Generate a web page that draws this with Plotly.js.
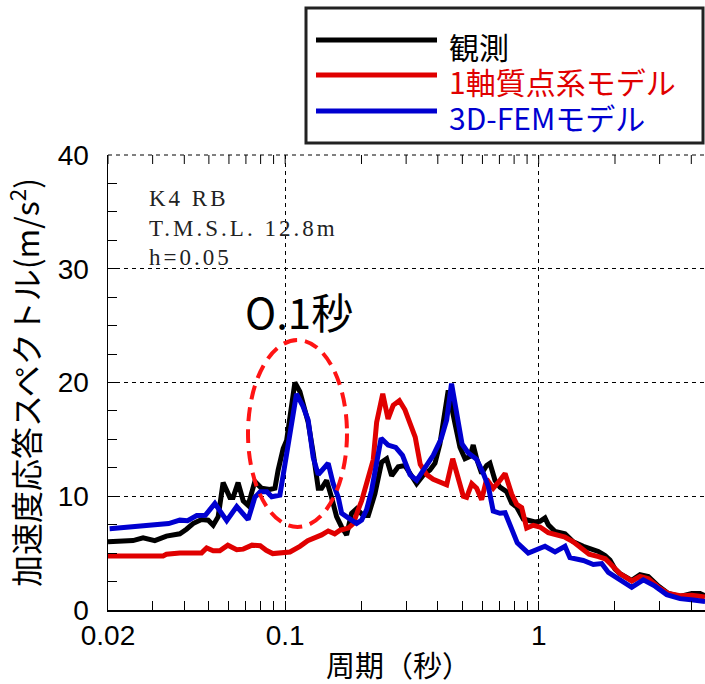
<!DOCTYPE html>
<html>
<head>
<meta charset="utf-8">
<script src="https://cdn.plot.ly/plotly-3.0.1.min.js"></script>
<style>
  html, body { margin: 0; padding: 0; background: #fff; }
  #chart { width: 705px; height: 684px; }
</style>
</head>
<body>
<div id="chart"></div>
<script>
// Acceleration response spectra (h = 0.05), K4 RB, T.M.S.L. 12.8m
// Observed record
const obsPeriod = [0.020,0.0251,0.0275,0.0306,0.0340,0.0384,0.0408,0.0433,0.0468,0.0497,0.0520,0.0544,0.0569,0.0605,0.0623,0.0652,0.0683,0.0714,0.0759,0.0807,0.0870,0.0911,0.0938,0.0982,0.1013,0.1060,0.1092,0.1143,0.1196,0.1232,0.1290,0.1350,0.1392,0.1457,0.1524,0.1595,0.1670,0.1747,0.1828,0.1913,0.2032,0.2127,0.2259,0.2401,0.2513,0.2630,0.2792,0.2968,0.3300,0.3504,0.3724,0.3899,0.4077,0.4267,0.4397,0.4675,0.4891,0.5120,0.5356,0.5518,0.5692,0.5957,0.6233,0.6424,0.6725,0.7035,0.7475,0.7825,0.8188,0.8695,0.9098,0.9670,1.012,1.059,1.091,1.160,1.270,1.369,1.500,1.619,1.719,1.827,1.911,2.000,2.094,2.328,2.511,2.707,2.965,3.247,3.611,4.017,4.332,4.533];
const obsAccel  = [6.0,6.1,6.35,6.1,6.5,6.7,7.1,7.6,7.95,7.9,7.45,8.2,11.2,9.9,9.9,11.2,9.6,9.2,11.3,10.7,10.6,10.7,12.3,14.2,14.9,17.6,20.0,19.2,17.6,16.5,13.8,10.7,10.7,11.4,9.9,8.2,7.3,6.6,8.5,8.9,8.3,8.3,10.2,13.0,13.3,11.8,12.6,12.7,11.1,11.85,12.3,12.9,14.6,17.3,19.3,16.4,14.3,13.3,13.5,14.5,13.3,12.0,12.7,12.9,11.4,10.8,10.4,9.4,9.06,8.0,7.9,7.74,7.8,8.1,7.5,6.9,6.7,6.0,5.6,5.4,5.15,4.8,4.4,3.6,3.2,2.6,3.1,2.95,2.1,1.45,1.2,1.45,1.45,1.25];

// 1-axis lumped mass model
const lumpPeriod = [0.020,0.025,0.0330,0.0340,0.0384,0.0468,0.0490,0.0520,0.0552,0.0594,0.0644,0.0683,0.0740,0.0797,0.0842,0.0893,0.0969,0.1044,0.1143,0.1227,0.1392,0.1478,0.1568,0.1642,0.1774,0.1857,0.1940,0.2003,0.2093,0.2225,0.2295,0.2426,0.2546,0.2667,0.2821,0.2968,0.3108,0.3258,0.3410,0.3617,0.3837,0.4077,0.4335,0.4580,0.4818,0.5043,0.5199,0.5444,0.5692,0.5957,0.6233,0.6617,0.7035,0.7371,0.7825,0.8188,0.8568,0.8966,0.9521,1.012,1.091,1.160,1.270,1.369,1.45,1.58,1.72,1.83,1.93,2.09,2.33,2.51,2.71,2.97,3.25,3.61,4.02,4.53];
const lumpAccel  = [4.75,4.75,4.75,4.9,5.02,5.02,5.45,5.2,5.2,5.7,5.3,5.35,5.7,5.65,5.25,4.96,5.0,5.1,5.6,6.1,6.6,6.95,6.7,7.0,7.2,7.6,8.8,9.6,11.1,13.2,16.5,19.0,16.8,18.0,18.4,17.6,16.4,15.2,12.8,11.9,11.5,11.26,11.0,13.3,11.4,10.0,9.9,11.1,10.7,9.7,11.5,10.7,11.4,12.0,10.2,9.3,9.0,7.2,7.45,7.3,6.8,6.65,6.4,6.0,5.5,4.9,4.7,4.5,4.0,3.2,2.55,2.95,2.75,2.0,1.45,1.25,1.3,1.15];

// 3D-FEM model
const femPeriod = [0.0203,0.0251,0.0298,0.0347,0.0384,0.0412,0.0448,0.0484,0.0528,0.0588,0.0644,0.0714,0.0759,0.0797,0.0847,0.0885,0.0953,0.1006,0.1060,0.1108,0.1176,0.1232,0.1290,0.1350,0.1478,0.1547,0.1620,0.1670,0.1774,0.1913,0.2003,0.2093,0.2192,0.2295,0.2390,0.2546,0.2729,0.2902,0.3108,0.3300,0.3545,0.3837,0.4115,0.4335,0.4532,0.4745,0.4984,0.5280,0.5692,0.6050,0.6326,0.6617,0.7035,0.7371,0.7825,0.8232,0.9098,0.9820,1.059,1.160,1.270,1.328,1.500,1.643,1.773,1.883,2.094,2.328,2.587,2.877,3.200,3.611,4.075,4.533];
const femAccel  = [7.15,7.3,7.5,7.6,7.9,7.85,8.3,8.33,9.36,7.85,9.1,7.95,9.9,10.4,10.4,9.95,10.1,13.2,16.2,19.0,17.9,16.7,13.4,11.9,12.9,11.1,9.9,8.5,8.1,7.6,7.9,8.8,10.5,13.0,15.1,14.5,14.3,13.6,11.9,11.4,12.4,13.6,15.0,16.7,19.9,17.0,14.6,13.8,13.25,12.0,10.9,8.7,8.5,8.55,7.2,5.9,5.0,5.3,5.6,5.1,5.6,4.6,4.35,4.0,4.08,3.3,2.6,2.0,2.65,2.1,1.35,1.0,0.88,0.75];

const seriesNames = ['観測', '1軸質点系モデル', '3D-FEMモデル'];
const seriesColors = ['#000000', '#e00000', '#0000d0'];

// Period ticks
const majorPeriods = [0.02, 0.1, 1];
const majorLabels = ['0.02', '0.1', '1'];
const minorPeriods = [0.03,0.04,0.05,0.06,0.07,0.08,0.09,0.2,0.3,0.4,0.5,0.6,0.7,0.8,0.9,2,3,4];

const periodMin = 0.02, periodMax = 4.53;

// Plot frame in pixels, used to place the legend box and notes
const L = 108, R = 705, T = 155, B = 610;
const fx = p => (p - L) / (R - L);
const fy = p => (B - p) / (B - T);
// paper position of a period on the log axis
const fLog = t => (Math.log10(t) - Math.log10(periodMin)) / (Math.log10(periodMax) - Math.log10(periodMin));

const curves = [
  [obsPeriod, obsAccel],
  [lumpPeriod, lumpAccel],
  [femPeriod, femAccel]
];

const traces = curves.map((c, i) => ({
  x: c[0], y: c[1], type: 'scatter', mode: 'lines',
  name: seriesNames[i],
  line: { color: seriesColors[i], width: 5 },
  showlegend: false, hoverinfo: 'skip'
}));

const gridDash = '4px,4px';
const tickFont = { family: 'Liberation Sans, Arial, sans-serif', size: 28, color: '#000' };
const jpFont = 'Noto Sans CJK JP, sans-serif';

const shapes = [
  // dashed top edge at 40
  { type: 'line', xref: 'paper', yref: 'paper', x0: 0, x1: 1, y0: 1, y1: 1,
    line: { color: '#000', width: 1, dash: gridDash } },
  // circled 0.1 s peak
  { type: 'circle', xref: 'paper', yref: 'paper',
    x0: fx(248), x1: fx(347), y0: fy(527), y1: fy(340),
    line: { color: '#ff1414', width: 4, dash: '14px,8px' } },
  // legend frame
  { type: 'rect', xref: 'paper', yref: 'paper',
    x0: fx(306), x1: fx(703), y0: fy(143), y1: fy(8),
    line: { color: '#222', width: 3 }, fillcolor: '#fff', layer: 'above' }
];
// ticks along the top edge
majorPeriods.concat(minorPeriods).forEach(t => {
  shapes.push({ type: 'line', xref: 'paper', yref: 'paper',
    x0: fLog(t), x1: fLog(t), y0: 1, y1: 1 - 9 / (B - T),
    line: { color: '#000', width: 1 } });
});
const legendY = [40, 75, 111];
legendY.forEach((yy, i) => {
  shapes.push({ type: 'line', xref: 'paper', yref: 'paper',
    x0: fx(316), x1: fx(437), y0: fy(yy), y1: fy(yy),
    line: { color: seriesColors[i], width: 5 }, layer: 'above' });
});

const noteStyle = 'letter-spacing:3px';
const annotations = [
  { text: 'K4 RB', x: fx(147), y: fy(198) },
  { text: 'T.M.S.L. 12.8m', x: fx(147), y: fy(228) },
  { text: 'h=0.05', x: fx(147), y: fy(257) }
].map(a => Object.assign(a, {
  text: '<span style="' + noteStyle + '">' + a.text + '</span>',
  xref: 'paper', yref: 'paper', xanchor: 'left', yanchor: 'middle', showarrow: false,
  font: { family: 'Liberation Serif, serif', size: 23, color: '#222' }
}));

annotations.push({
  text: 'O.1秒', xref: 'paper', yref: 'paper', x: fx(299), y: fy(310),
  xanchor: 'center', yanchor: 'middle', showarrow: false,
  font: { family: jpFont, size: 42, color: '#000' }
});

// x-axis title, placed below the tick labels
annotations.push({
  text: '周期（秒）', xref: 'paper', yref: 'paper', x: fx(398), y: fy(664),
  xanchor: 'center', yanchor: 'middle', showarrow: false,
  font: { family: jpFont, size: 29, color: '#000' }
});

legendY.forEach((yy, i) => {
  annotations.push({
    text: seriesNames[i], xref: 'paper', yref: 'paper', x: fx(447), y: fy(yy + 6),
    xanchor: 'left', yanchor: 'middle', showarrow: false,
    font: { family: jpFont, size: 30, color: seriesColors[i] }
  });
});

const layout = {
  width: 705, height: 684,
  margin: { l: L, r: 705 - R, t: T, b: 684 - B },
  paper_bgcolor: '#fff', plot_bgcolor: '#fff',
  showlegend: false,
  xaxis: {
    type: 'log', range: [Math.log10(periodMin), Math.log10(periodMax)],
    tickmode: 'array', tickvals: majorPeriods, ticktext: majorLabels,
    ticks: 'inside', ticklen: 9, tickwidth: 1, tickcolor: '#000',
    showline: true, linecolor: '#000', linewidth: 1.5,
    showgrid: true, gridcolor: '#000', gridwidth: 1, griddash: gridDash,
    zeroline: false, tickfont: tickFont, ticklabelstandoff: 0,
    minor: { tickmode: 'array', tickvals: minorPeriods, ticks: 'inside', ticklen: 9, tickcolor: '#000', showgrid: false },
    automargin: false
  },
  yaxis: {
    range: [0, 40], tickmode: 'linear', tick0: 0, dtick: 10,
    ticks: 'inside', ticklen: 9, tickcolor: '#000',
    showline: true, linecolor: '#000', linewidth: 1.5,
    showgrid: true, gridcolor: '#000', gridwidth: 1, griddash: gridDash,
    zeroline: false, tickfont: tickFont, ticklabelstandoff: 12,
    minor: { tick0: 0, dtick: 2.5, ticks: 'inside', ticklen: 9, tickcolor: '#000', showgrid: false },
    title: { text: '加速度応答スペクトル(m/s<sup>2</sup>)', font: { family: jpFont, size: 32, color: '#000' }, standoff: 10 },
    automargin: false
  },
  shapes: shapes,
  annotations: annotations
};

Plotly.newPlot('chart', traces, layout, { displayModeBar: false, staticPlot: true });
</script>
</body>
</html>
